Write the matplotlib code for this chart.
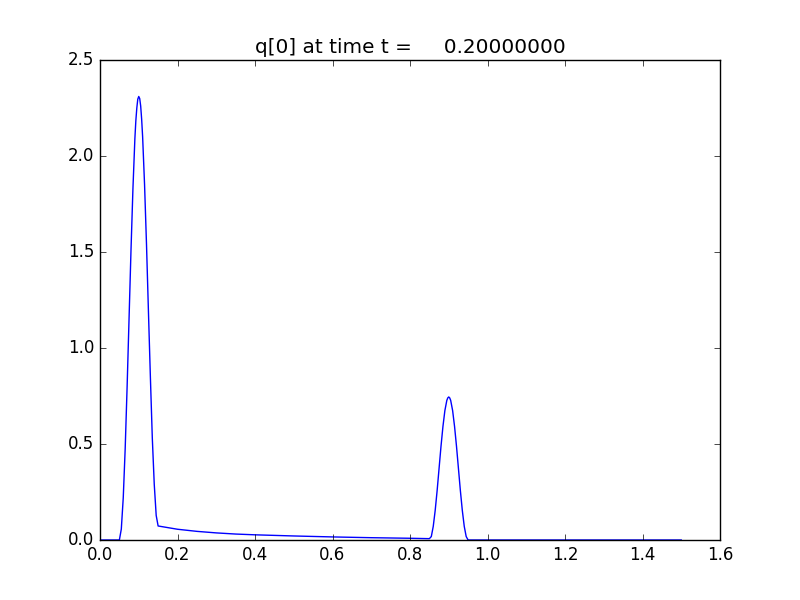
import matplotlib
matplotlib.use("Agg")
import matplotlib.pyplot as plt

plt.style.use("classic")

# x positions and q values
x_left = [0.0, 0.05, 0.055, 0.06, 0.065, 0.07, 0.075, 0.08, 0.085, 0.09, 0.0925, 0.095,
          0.0975, 0.10, 0.1025, 0.105, 0.1075, 0.11, 0.115, 0.12, 0.125, 0.13, 0.135,
          0.14, 0.145, 0.15]
q_left = [0.0, 0.0, 0.057, 0.22, 0.476, 0.80, 1.155, 1.51, 1.83, 2.09, 2.184, 2.25,
          2.296, 2.31, 2.299, 2.26, 2.191, 2.10, 1.85, 1.54, 1.19, 0.85, 0.53,
          0.29, 0.128, 0.073]

x_tail = [0.2, 0.25, 0.3, 0.35, 0.4, 0.5, 0.6, 0.7, 0.8, 0.85]
q_tail = [0.056, 0.045, 0.037, 0.031, 0.027, 0.021, 0.016, 0.012, 0.009, 0.007]

x_right = [0.855, 0.86, 0.865, 0.87, 0.875, 0.88, 0.885, 0.89, 0.895, 0.8975, 0.90,
           0.9025, 0.905, 0.91, 0.915, 0.92, 0.925, 0.93, 0.935, 0.94, 0.945, 0.95, 1.5]
q_right = [0.018, 0.071, 0.154, 0.257, 0.3725, 0.488, 0.591, 0.674, 0.727, 0.740, 0.745,
           0.740, 0.727, 0.674, 0.591, 0.488, 0.3725, 0.257, 0.154, 0.071, 0.018, 0.0, 0.0]

x = x_left + x_tail + x_right
q = q_left + q_tail + q_right

t = 0.2

fig = plt.figure(figsize=(8, 6), dpi=100)
ax = fig.add_subplot(111)
ax.plot(x, q, color="b", linewidth=1.0)
ax.set_xlim(0.0, 1.6)
ax.set_ylim(0.0, 2.5)
ax.set_title("q[0] at time t = %14.8f" % t)
fig.savefig("out.png", dpi=100, facecolor="white")
